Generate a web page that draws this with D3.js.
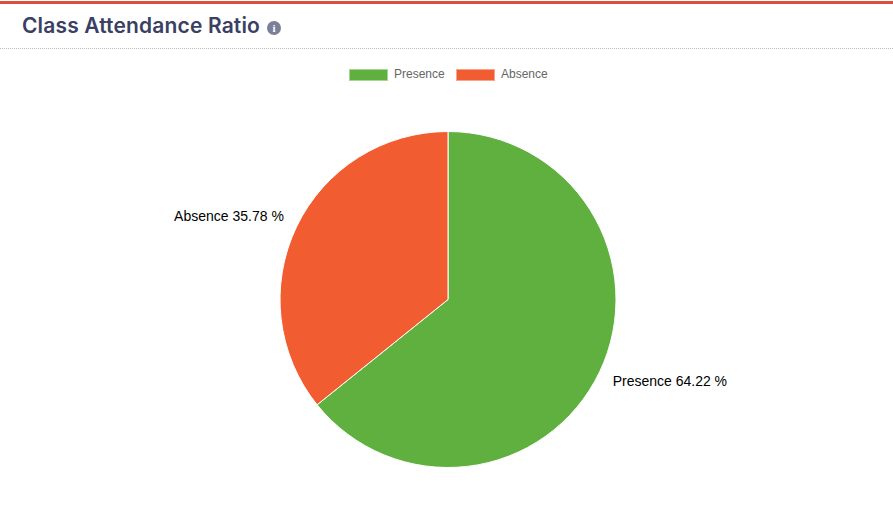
<!DOCTYPE html>
<html>
<head>
<meta charset="utf-8">
<script src="https://cdnjs.cloudflare.com/ajax/libs/d3/7.8.5/d3.min.js"></script>
<style>
html, body { margin: 0; padding: 0; background: #fff; overflow: hidden; }
svg { display: block; }
</style>
</head>
<body>
<svg id="chart" width="893" height="511"></svg>
<script>
const categories = ["Presence", "Absence"];
const values = [64.22, 35.78];
const colors = ["#60b040", "#f15d30"];
const chartTitle = "Class Attendance Ratio";

const svg = d3.select("#chart");

// Header: accent rule, title, info badge, dotted divider
svg.append("rect").attr("x", 0).attr("y", 1).attr("width", 893).attr("height", 3).attr("fill", "#d9503f");
svg.append("text")
  .attr("x", 22).attr("y", 33)
  .attr("font-family", "Inter, sans-serif")
  .attr("font-size", 21).attr("font-weight", 600)
  .attr("letter-spacing", 0.15)
  .attr("fill", "#3a3f63")
  .text(chartTitle);
svg.append("circle").attr("cx", 274).attr("cy", 28).attr("r", 7).attr("fill", "#7b7f99");
svg.append("text")
  .attr("x", 274).attr("y", 31.5)
  .attr("text-anchor", "middle")
  .attr("font-family", "Liberation Serif, serif")
  .attr("font-size", 11).attr("font-weight", 700)
  .attr("fill", "#fff")
  .text("i");
svg.append("line")
  .attr("x1", 0).attr("x2", 893).attr("y1", 48.5).attr("y2", 48.5)
  .attr("stroke", "#bdbdbd").attr("stroke-dasharray", "1 1");

// Legend
const legendX = d3.scaleOrdinal().domain(categories).range([349, 456]);
const legend = svg.append("g").selectAll("g").data(categories).join("g")
  .attr("transform", d => `translate(${legendX(d)},69)`);
legend.append("rect")
  .attr("x", 0.5).attr("y", 0.5).attr("width", 38).attr("height", 11)
  .attr("fill", (d, i) => colors[i])
  .attr("stroke", (d, i) => d3.interpolateRgb(colors[i], "#fff")(0.45));
legend.append("text")
  .attr("x", 45).attr("y", 9)
  .attr("font-family", "Liberation Sans, Arial, sans-serif")
  .attr("font-size", 12).attr("fill", "#666")
  .text(d => d);

// Pie, clockwise from twelve o'clock
const cx = 448, cy = 299.5, radius = 168;
const arcs = d3.pie().sort(null)(values);
const arc = d3.arc().innerRadius(0).outerRadius(radius);
const labelArc = d3.arc().innerRadius(radius * 1.1).outerRadius(radius * 1.1);
const pie = svg.append("g").attr("transform", `translate(${cx},${cy})`);

pie.selectAll("path").data(arcs).join("path")
  .attr("d", arc)
  .attr("fill", (d, i) => colors[i])
  .attr("stroke", "#fff").attr("stroke-width", 1);

// Outside labels, placed along each slice's mid-angle
pie.selectAll("text").data(arcs).join("text")
  .attr("x", d => labelArc.centroid(d)[0] + (d.index === 0 ? -2 : 2.5))
  .attr("y", d => labelArc.centroid(d)[1] + (d.index === 0 ? 3 : -2))
  .attr("text-anchor", d => d.index === 0 ? "start" : "end")
  .attr("dominant-baseline", "middle")
  .attr("font-family", "Liberation Sans, Arial, sans-serif")
  .attr("font-size", 14).attr("fill", "#000")
  .text(d => `${categories[d.index]} ${values[d.index].toFixed(2)} %`);
</script>
</body>
</html>
